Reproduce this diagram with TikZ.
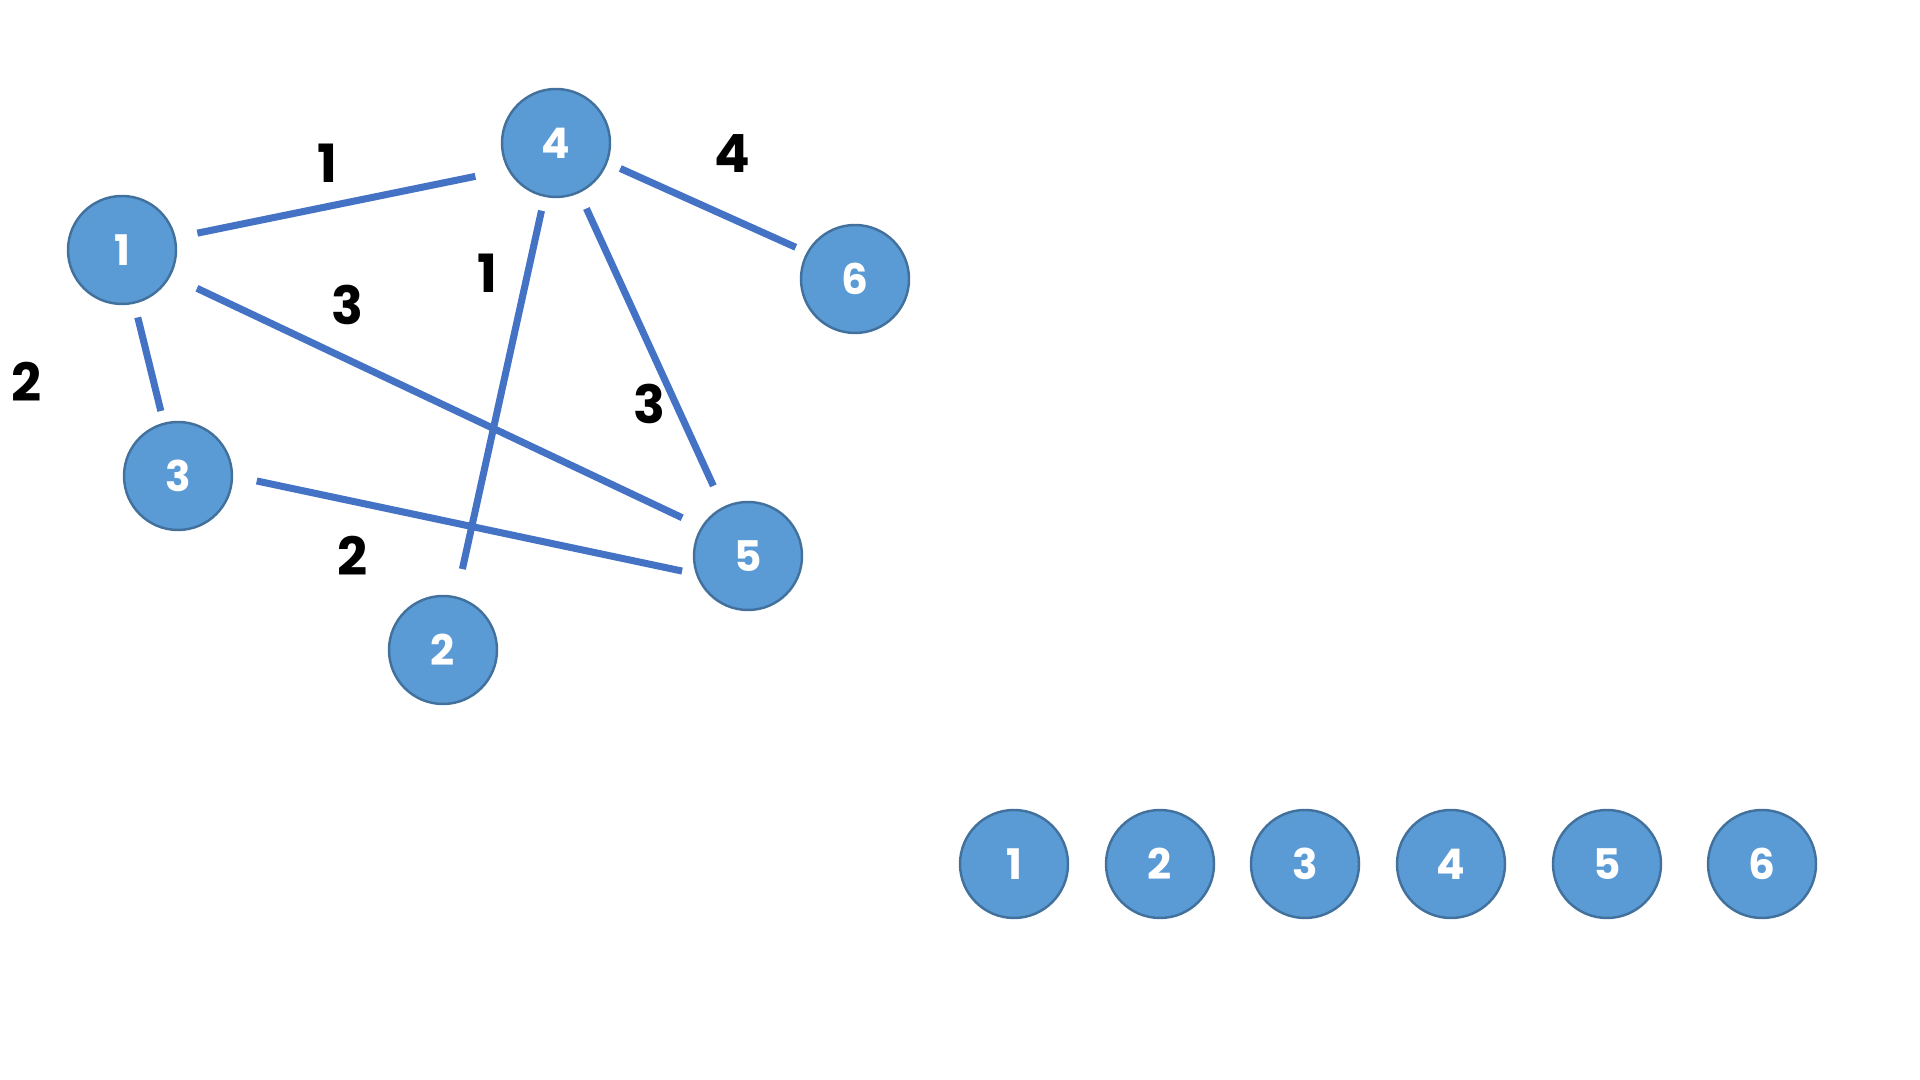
\documentclass[tikz,border=0pt]{standalone}
\usepackage{fontspec}
\setmainfont{Poppins}
\usepackage{tikz}
\definecolor{vfill}{HTML}{5B9BD5}
\definecolor{vline}{HTML}{41719C}
\definecolor{eline}{HTML}{4472C4}
\tikzset{
  vert/.style={circle, fill=vfill, draw=vline, line width=0.7pt, minimum size=1.08cm, inner sep=0pt, text=white, font=\bfseries\fontsize{12}{12}\selectfont},
  wt/.style={font=\bfseries\fontsize{15}{15}\selectfont},
  edge/.style={eline, line width=2pt}
}

\begin{document}
\begin{tikzpicture}
\useasboundingbox (0,0) rectangle (19.2,10.8);
\node[vert] (n1) at (1.22,8.30) {1};
\node[vert] (n4) at (5.56,9.37) {4};
\node[vert] (n6) at (8.55,8.01) {6};
\node[vert] (n3) at (1.78,6.04) {3};
\node[vert] (n5) at (7.48,5.24) {5};
\node[vert] (n2) at (4.43,4.30) {2};
% edges, cut short of the circles
\draw[edge, shorten <=0.22cm, shorten >=0.33cm] (n1.13.9) -- (n4.209.5);
\draw[edge, shorten <=0.29cm, shorten >=0.21cm] (n1.-28.4) -- (n5.148.9);
\draw[edge, shorten <=0.14cm, shorten >=0.12cm] (n1.-77.7) -- (n3.105.4);
\draw[edge, shorten <=0.24cm, shorten >=0.14cm] (n3.0) -- (n5.199.1);
\draw[edge, shorten <=0.14cm, shorten >=0.28cm] (n4.-102.5) -- (n2.76.7);
\draw[edge, shorten <=0.17cm, shorten >=0.23cm] (n4.-65.8) -- (n5.117.3);
\draw[edge, shorten <=0.14cm, shorten >=0.12cm] (n4.-21.9) -- (n6.151.7);
% weights
\node[wt] (w14) at (3.27,9.17) {1};
\node[wt] (w15) at (3.47,7.75) {3};
\node[wt] (w13) at (0.27,6.98) {2};
\node[wt] (w35) at (3.53,5.24) {2};
\node[wt] (w42) at (4.87,8.07) {1};
\node[wt] (w45) at (6.49,6.76) {3};
\node[wt] (w46) at (7.32,9.26) {4};
% bottom row
\foreach \i/\x in {1/10.14, 2/11.60, 3/13.05, 4/14.51, 5/16.07, 6/17.62}
  \node[vert] (b\i) at (\x,2.16) {\i};
\end{tikzpicture}
\end{document}
